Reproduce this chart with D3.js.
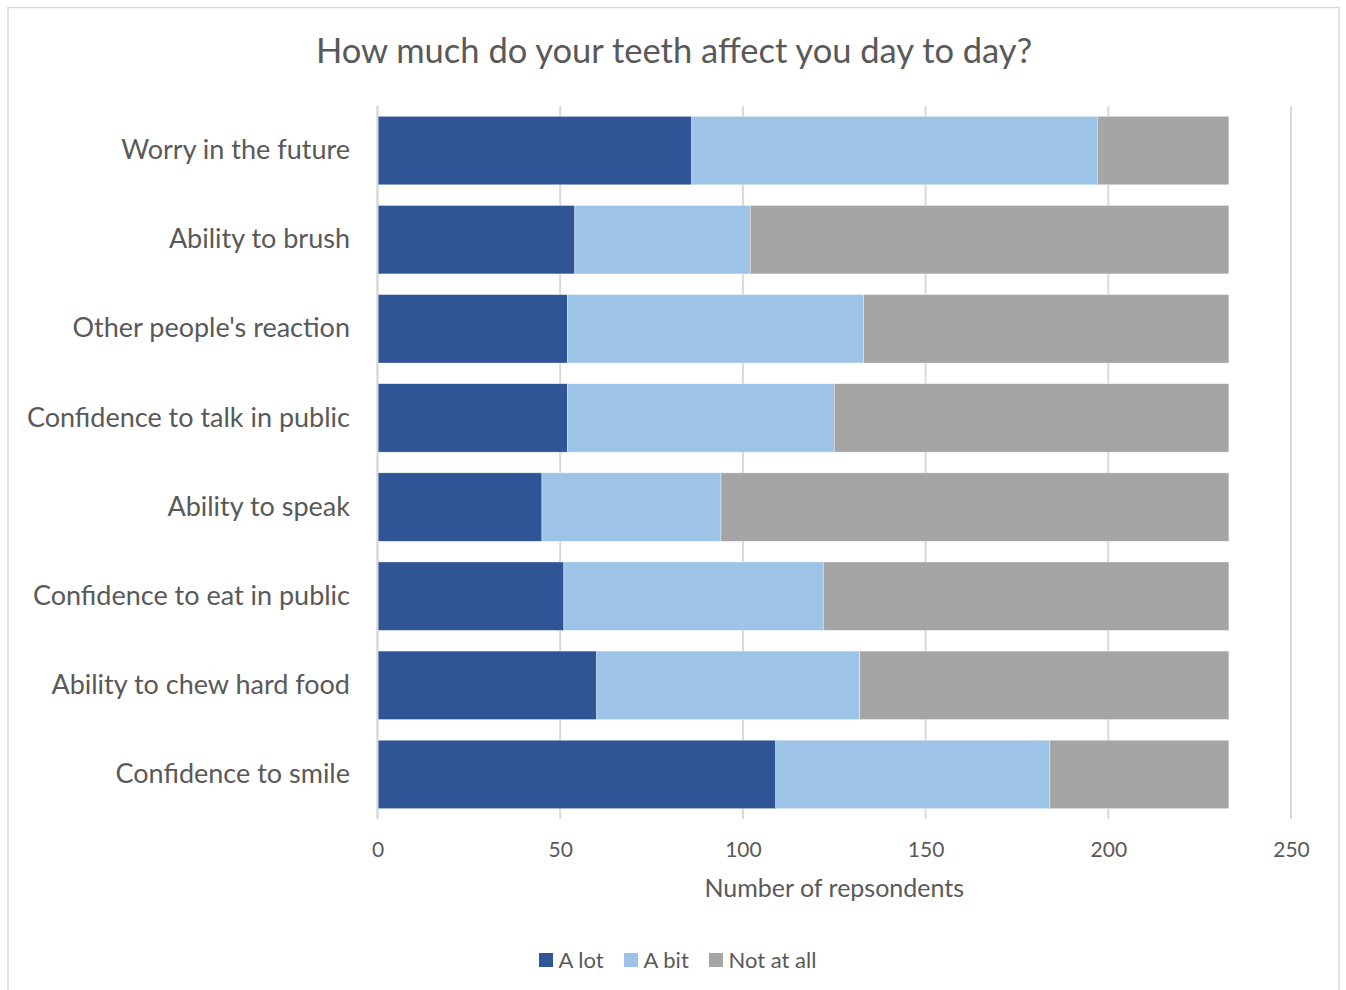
<!DOCTYPE html>
<html>
<head>
<meta charset="utf-8">
<script src="https://cdn.jsdelivr.net/npm/d3@7"></script>
<style>
  html, body { margin: 0; padding: 0; background: #fff; }
  svg { display: block; font-family: Lato, "Open Sans", sans-serif; }
</style>
</head>
<body>
<svg id="chart" width="1346" height="990"></svg>
<script>
// Survey items, top to bottom
const categories = [
  "Worry in the future",
  "Ability to brush",
  "Other people's reaction",
  "Confidence to talk in public",
  "Ability to speak",
  "Confidence to eat in public",
  "Ability to chew hard food",
  "Confidence to smile"
];

// Number of respondents per answer
const aLot     = [86, 54, 52, 52, 45, 51, 60, 109];
const aBit     = [111, 48, 81, 73, 49, 71, 72, 75];
const notAtAll = [36, 131, 100, 108, 139, 111, 101, 49];

const seriesNames = ["A lot", "A bit", "Not at all"];
const seriesColors = ["#2f5597", "#9dc3e6", "#a5a5a5"];
const xTicks = [0, 50, 100, 150, 200, 250];

const svg = d3.select("#chart");
const W = 1346, H = 990;
const margin = { top: 106, right: 55, bottom: 171, left: 377.5 };
const textColor = "#595959";

// Chart frame
svg.append("rect")
  .attr("x", 8).attr("y", 7.5)
  .attr("width", 1331).attr("height", 990)
  .attr("fill", "#fff")
  .attr("stroke", "#d9d9d9").attr("stroke-width", 1.5);

const x = d3.scaleLinear().domain([0, 250]).range([margin.left, W - margin.right]);
const y = d3.scaleBand().domain(categories)
  .range([margin.top, H - margin.bottom])
  .paddingInner(0.232).paddingOuter(0.116);

// Vertical gridlines
svg.append("g")
  .selectAll("line")
  .data(xTicks)
  .join("line")
  .attr("x1", d => x(d)).attr("x2", d => x(d))
  .attr("y1", margin.top).attr("y2", H - margin.bottom)
  .attr("stroke", "#d9d9d9").attr("stroke-width", 2);

// Stacked bars
const rows = categories.map((c, i) => ({ cat: c, "A lot": aLot[i], "A bit": aBit[i], "Not at all": notAtAll[i] }));
const stacked = d3.stack().keys(seriesNames)(rows);

svg.append("g")
  .selectAll("g")
  .data(stacked)
  .join("g")
  .attr("fill", (d, i) => seriesColors[i])
  .selectAll("rect")
  .data(d => d)
  .join("rect")
  .attr("x", d => x(d[0]))
  .attr("y", d => y(d.data.cat))
  .attr("width", d => x(d[1]) - x(d[0]))
  .attr("height", y.bandwidth())
  .attr("stroke", "#fff").attr("stroke-width", 0.6).attr("stroke-opacity", 0.6);

// X axis tick labels
const xAxis = d3.axisBottom(x).tickValues(xTicks).tickSize(0).tickPadding(23);
const gx = svg.append("g")
  .attr("transform", `translate(0,${H - margin.bottom})`)
  .call(xAxis);
gx.select(".domain").remove();
gx.selectAll("text")
  .attr("fill", textColor)
  .style("font-size", "21px")
  .style("font-family", "Lato, sans-serif");

// Category labels
const yAxis = d3.axisLeft(y).tickSize(0).tickPadding(27.5);
const gy = svg.append("g")
  .attr("transform", `translate(${margin.left},0)`)
  .call(yAxis);
gy.select(".domain").remove();
gy.selectAll("text")
  .attr("fill", textColor)
  .style("font-size", "27px")
  .style("font-family", "Lato, sans-serif");

// Axis line at zero
svg.append("line")
  .attr("x1", x(0)).attr("x2", x(0))
  .attr("y1", margin.top).attr("y2", H - margin.bottom)
  .attr("stroke", "#d9d9d9").attr("stroke-width", 2);

// Title
svg.append("text")
  .attr("x", 674).attr("y", 63)
  .attr("text-anchor", "middle")
  .attr("fill", textColor)
  .style("font-size", "34.5px")
  .text("How much do your teeth affect you day to day?");

// Axis title
svg.append("text")
  .attr("x", (x(0) + x(250)) / 2).attr("y", 897)
  .attr("text-anchor", "middle")
  .attr("fill", textColor)
  .style("font-size", "25px")
  .text("Number of repsondents");

// Legend
const legendItems = [
  { name: "A lot", x: 539 },
  { name: "A bit", x: 624 },
  { name: "Not at all", x: 709 }
];
const lg = svg.append("g").attr("transform", "translate(0,953)");
legendItems.forEach((it, i) => {
  lg.append("rect")
    .attr("x", it.x).attr("y", 0)
    .attr("width", 14).attr("height", 14)
    .attr("fill", seriesColors[i]);
  lg.append("text")
    .attr("x", it.x + 19.5).attr("y", 15)
    .attr("fill", textColor)
    .style("font-size", "22px")
    .text(it.name);
});
</script>
</body>
</html>
